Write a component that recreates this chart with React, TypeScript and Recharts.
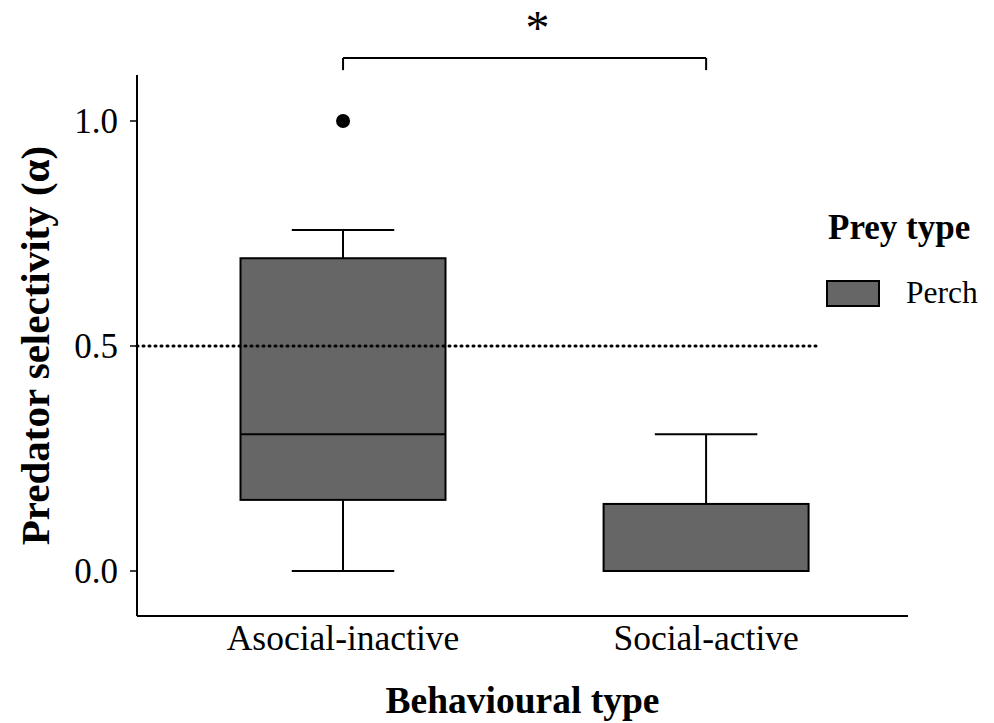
import {
  Bar,
  ComposedChart,
  ReferenceLine,
  Scatter,
  XAxis,
  YAxis,
} from "recharts";

const categories = ["Asocial-inactive", "Social-active"];
const positions = [1, 2];
const whiskerLow = [0, 0];
const q1 = [0.158, 0];
const median = [0.304, 0];
const q3 = [0.695, 0.149];
const whiskerHigh = [0.758, 0.304];
const outliers = [{ pos: 1, value: 1.0 }];
const yTicks = [0, 0.5, 1.0];
const chanceLevel = 0.5;
const legendTitle = "Prey type";
const legendItems = ["Perch"];

const data = categories.map((name, i) => ({
  name,
  pos: positions[i],
  range: [whiskerLow[i], whiskerHigh[i]],
  lo: whiskerLow[i],
  q1: q1[i],
  median: median[i],
  q3: q3[i],
  hi: whiskerHigh[i],
}));

const FONT = "'Liberation Serif', 'Times New Roman', serif";
const BOX_FILL = "#666666";

function BoxShape(props: any) {
  const { x, y, width, height, payload } = props;
  const top = Math.min(y, y + height);
  const span = Math.abs(height);
  const k = span / (payload.hi - payload.lo);
  const yOf = (v: number) => top + (payload.hi - v) * k;
  const cx = x + width / 2;
  const capHalf = width / 4;
  return (
    <g>
      <line x1={cx} x2={cx} y1={yOf(payload.hi)} y2={yOf(payload.lo)} stroke="#000" strokeWidth={2} />
      <line x1={cx - capHalf} x2={cx + capHalf} y1={yOf(payload.hi)} y2={yOf(payload.hi)} stroke="#000" strokeWidth={2} />
      <line x1={cx - capHalf} x2={cx + capHalf} y1={yOf(payload.lo)} y2={yOf(payload.lo)} stroke="#000" strokeWidth={2} />
      <rect
        x={x}
        y={yOf(payload.q3)}
        width={width}
        height={yOf(payload.q1) - yOf(payload.q3)}
        fill={BOX_FILL}
        stroke="#000"
        strokeWidth={2}
      />
      <line x1={x} x2={x + width} y1={yOf(payload.median)} y2={yOf(payload.median)} stroke="#000" strokeWidth={2} />
    </g>
  );
}

function YLabel(props: any) {
  const vb = props.viewBox;
  const cy = vb.y + vb.height / 2;
  return (
    <text
      x={35}
      y={cy}
      transform={`rotate(-90, 35, ${cy})`}
      textAnchor="middle"
      dominantBaseline="central"
      fontFamily={FONT}
      fontWeight="bold"
      fontSize={41}
      fill="#000"
    >
      Predator selectivity (α)
    </text>
  );
}

function Star(props: any) {
  const vb = props.viewBox;
  return (
    <text
      x={vb.x + vb.width / 2 + 13}
      y={vb.y - 14}
      textAnchor="middle"
      fontFamily={FONT}
      fontSize={48}
      fill="#000"
    >
      *
    </text>
  );
}

export default function App() {
  return (
    <div style={{ position: "absolute", left: 0, top: 0, width: 994, height: 723, background: "#fff" }}>
      <ComposedChart
        width={994}
        height={723}
        data={data}
        margin={{ top: 75, right: 86, bottom: 0, left: 0 }}
      >
        <XAxis
          type="number"
          dataKey="pos"
          domain={[0.4325, 2.556]}
          ticks={positions}
          tickFormatter={(v: number) => categories[v - 1] ?? ""}
          tickLine={false}
          tickMargin={3}
          height={107}
          axisLine={{ stroke: "#000", strokeWidth: 2 }}
          tick={{ fill: "#000", fontSize: 35.5, fontFamily: FONT }}
          label={{
            value: "Behavioural type",
            position: "insideBottom",
            offset: 10,
            fill: "#000",
            fontSize: 37.5,
            fontWeight: "bold",
            fontFamily: FONT,
          }}
        />
        <YAxis
          type="number"
          domain={[-0.1, 1.1022]}
          ticks={yTicks}
          tickFormatter={(v: number) => v.toFixed(1)}
          width={137}
          tickSize={7}
          tickMargin={12}
          axisLine={{ stroke: "#000", strokeWidth: 2 }}
          tickLine={{ stroke: "#000", strokeWidth: 1.5 }}
          tick={{ fill: "#000", fontSize: 35, fontFamily: FONT }}
          label={<YLabel />}
        />
        <Bar dataKey="range" barSize={205} shape={<BoxShape />} isAnimationActive={false} />
        <ReferenceLine
          segment={[
            { x: 0.4325, y: chanceLevel },
            { x: 2.309, y: chanceLevel },
          ]}
          stroke="#000"
          strokeWidth={3}
          strokeDasharray="1 5"
          strokeLinecap="round"
        />
        <Scatter
          data={outliers}
          dataKey="value"
          isAnimationActive={false}
          shape={(p: any) => <circle cx={p.cx} cy={p.cy} r={7} fill="#000" />}
        />
        <ReferenceLine
          segment={[
            { x: 1, y: 1.14 },
            { x: 2, y: 1.14 },
          ]}
          ifOverflow="visible"
          stroke="#000"
          strokeWidth={2}
          label={<Star />}
        />
        <ReferenceLine
          segment={[
            { x: 1, y: 1.14 },
            { x: 1, y: 1.113 },
          ]}
          ifOverflow="visible"
          stroke="#000"
          strokeWidth={2}
        />
        <ReferenceLine
          segment={[
            { x: 2, y: 1.14 },
            { x: 2, y: 1.113 },
          ]}
          ifOverflow="visible"
          stroke="#000"
          strokeWidth={2}
        />
      </ComposedChart>
      <div style={{ position: "absolute", left: 828, top: 206, fontFamily: FONT, color: "#000" }}>
        <div style={{ fontSize: 35, fontWeight: "bold", lineHeight: "44px" }}>{legendTitle}</div>
        {legendItems.map((item) => (
          <div key={item} style={{ display: "flex", alignItems: "center", marginTop: 25, marginLeft: -2 }}>
            <div style={{ width: 50, height: 23, background: BOX_FILL, border: "2px solid #000" }} />
            <span style={{ fontSize: 31.5, marginLeft: 26 }}>{item}</span>
          </div>
        ))}
      </div>
    </div>
  );
}
